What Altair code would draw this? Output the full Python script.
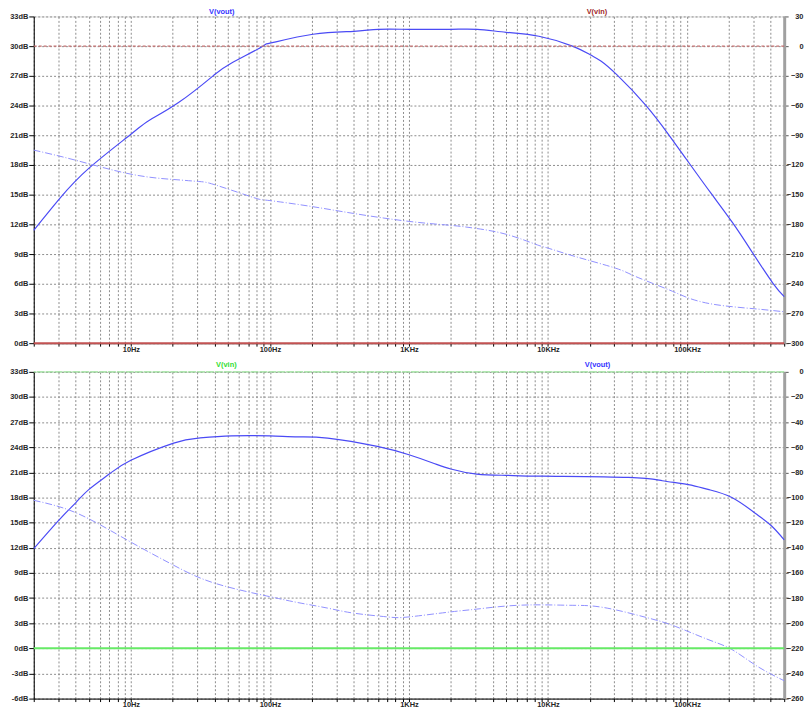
import altair as alt
import pandas as pd

# ---------------- data ----------------
# Top panel: V(vout) magnitude (dB) and phase (deg)
top_mag_f = [2, 3.07, 5.02, 10, 13.5, 22, 39, 53, 89, 100, 204, 400, 600, 1000, 2000,
             3100, 5000, 8600, 15000, 20300, 24000, 31500, 50200, 73700, 105000,
             150000, 215000, 298000, 414000, 500000]
top_mag_db = [11.4, 14.6, 17.7, 21.1, 22.5, 24.3, 27.0, 28.3, 30.0, 30.3, 31.2, 31.5, 31.7,
              31.7, 31.7, 31.7, 31.4, 31.0, 30.0, 29.1, 28.5, 27.07, 24.07, 21.07, 18.07,
              15.07, 12.07, 9.07, 6.07, 4.7]
top_ph_f = [2, 4.02, 10, 20.3, 30.7, 38, 59, 82, 100, 200, 400, 1000, 2000, 3000, 5000,
            8200, 10000, 15900, 30700, 42700, 73700, 102000, 159000, 307000, 500000]
top_ph_deg = [-105, -115.3, -129.3, -134.7, -136.7, -139, -147.7, -154.3, -156, -162,
              -169, -177, -181, -184, -190, -200.3, -204, -212.7, -224.3, -232.7, -246,
              -254.3, -261, -265.3, -268.3]

# Bottom panel: V(vout) magnitude (dB) and phase (deg)
bot_mag_f = [2, 3.07, 4.02, 5.02, 6.98, 10, 20.3, 30.7, 53, 100, 159, 260, 592, 1000,
             1500, 2000, 3070, 5000, 9180, 38000, 66400, 102000, 141600, 210000, 317000,
             406000, 500000]
bot_mag_db = [11.9, 15.4, 17.4, 19.0, 20.8, 22.45, 24.5, 25.1, 25.36, 25.36, 25.25, 25.1,
              24.1, 23.1, 22.1, 21.4, 20.8, 20.65, 20.55, 20.4, 20.0, 19.55, 18.97, 18.0,
              16.0, 14.6, 12.95]
bot_ph_f = [2, 3.07, 5.02, 10, 20.3, 40.4, 100, 159, 260, 400, 700, 1000, 2000, 3070,
            6220, 13500, 20300, 30700, 52800, 82200, 141600, 210000, 317000, 500000]
bot_ph_deg = [-102.2, -107.4, -117.1, -135.5, -153.9, -168.3, -178.9, -183.6, -188, -192,
              -195, -195, -191, -188.8, -185.7, -185.7, -186.2, -189.4, -195.9, -202.5,
              -213, -220.9, -234, -245.8]

# V(vin): flat 0 dB, 0 deg
vin_db = [0]
vin_deg = [0]

# trace names and label positions (frequency where the name is centred)
top_names = ["V(vout)", "V(vin)"]
top_name_f = [45, 22500]
bot_names = ["V(vin)", "V(vout)"]
bot_name_f = [48.6, 22700]

# axes
freq_domain = [2, 500000]
x_decades = [10, 100, 1000, 10000, 100000]
x_labels = ["10Hz", "100Hz", "1KHz", "10KHz", "100KHz"]
x_grid = [m * 10 ** k for k in range(0, 6) for m in range(1, 10)
          if freq_domain[0] <= m * 10 ** k <= freq_domain[1]]
top_db_ticks = list(range(0, 34, 3))
top_deg_ticks = list(range(-300, 31, 30))
bot_db_ticks = list(range(-6, 34, 3))
bot_deg_ticks = list(range(-260, 1, 20))

# ---------------- style ----------------
FONT = "Liberation Sans"
FS = 7.5
TXT = "#262626"
BLUE = "#4a4af5"
BLUE_PH = "#9090ff"
RED = "#c25252"
RED_PH = "#c47070"
GREEN = "#66ea66"
GREEN_PH = "#9be49b"
GRID = "#8c8c8c"
W, H = 758, 330

label_expr = " : ".join(
    f"datum.value == {v} ? '{t}'" for v, t in zip(x_decades, x_labels)) + " : ''"

x_axis = alt.Axis(values=x_grid, labelExpr=label_expr, grid=True, gridDash=[2, 2],
                  gridColor=GRID, gridWidth=1, tickSize=3, tickColor="#000",
                  domainColor="#000", domainWidth=1, title=None, labelFont=FONT,
                  labelFontSize=FS, labelFontWeight="bold", labelColor=TXT,
                  labelPadding=-1, labelFlush=False, labelOverlap=False)
X = alt.X("f:Q", scale=alt.Scale(type="log", domain=freq_domain, nice=False), axis=x_axis)


def left_axis(ticks):
    return alt.Axis(values=ticks, labelExpr="datum.value + 'dB'", grid=True, gridDash=[2, 2],
                    gridColor=GRID, gridWidth=1, tickSize=5, tickColor="#000",
                    domainColor="#000", domainWidth=1, title=None, labelFont=FONT,
                    labelFontSize=FS, labelFontWeight="bold", labelColor=TXT,
                    labelPadding=1, orient="left")


def right_axis(ticks):
    return alt.Axis(values=ticks, grid=False, tickSize=4, tickColor="#555",
                    domainColor="#a0a0a0", domainWidth=3, title=None, labelFont=FONT,
                    labelFontSize=FS, labelFontWeight="bold", labelColor=TXT,
                    labelPadding=15, labelAlign="right", orient="right")


def panel(mag_f, mag_db, ph_f, ph_deg, db_dom, deg_dom, db_ticks, deg_ticks,
          vin_color, vin_ph_color, names, name_f, name_colors, vin_ph_dash, name_y):
    mag = pd.DataFrame({"f": mag_f, "v": mag_db})
    ph = pd.DataFrame({"f": ph_f, "v": ph_deg})
    lab = pd.DataFrame({"f": name_f, "t": names, "c": name_colors})
    vmag = pd.DataFrame({"v": vin_db})
    vph = pd.DataFrame({"v": vin_deg})
    db_scale = alt.Scale(domain=db_dom, nice=False, zero=False)
    deg_scale = alt.Scale(domain=deg_dom, nice=False, zero=False)

    l_mag = alt.Chart(mag).mark_line(color=BLUE, strokeWidth=1.2, interpolate="natural").encode(
        x=X, y=alt.Y("v:Q", scale=db_scale, axis=left_axis(db_ticks)))
    l_ph = alt.Chart(ph).mark_line(color=BLUE_PH, strokeWidth=1, strokeDash=[7, 2, 1, 2],
                                   interpolate="natural").encode(
        x=X, y=alt.Y("v:Q", scale=deg_scale, axis=right_axis(deg_ticks)))
    r_mag = alt.Chart(vmag).mark_rule(color=vin_color, strokeWidth=2).encode(
        y=alt.Y("v:Q", scale=db_scale, axis=None))
    r_ph = alt.Chart(vph).mark_rule(color=vin_ph_color, strokeWidth=1.2,
                                    strokeDash=vin_ph_dash).encode(
        y=alt.Y("v:Q", scale=deg_scale, axis=None))
    txt = alt.Chart(lab).mark_text(font=FONT, fontSize=FS, fontWeight="bold",
                                   baseline="middle").encode(
        x=X, y=alt.value(name_y), text="t:N", color=alt.Color("c:N", scale=None))
    return alt.layer(l_mag, l_ph, r_mag, r_ph, txt).resolve_scale(y="independent").properties(
        width=W, height=H)


top = panel(top_mag_f, top_mag_db, top_ph_f, top_ph_deg, [0, 33], [-300, 30],
            top_db_ticks, top_deg_ticks, RED, RED_PH, top_names, top_name_f,
            ["#3535ff", "#a02828"], [3, 2], -4)
bottom = panel(bot_mag_f, bot_mag_db, bot_ph_f, bot_ph_deg, [-6, 33], [-260, 0],
               bot_db_ticks, bot_deg_ticks, GREEN, GREEN_PH, bot_names, bot_name_f,
               ["#33dd33", "#3535ff"], [8, 1], -7)

chart = alt.vconcat(top, bottom, spacing=29, bounds="flush").properties(
    padding={"left": 1, "top": -4, "right": 0, "bottom": -1.5}
).configure_view(stroke="#a0a0a0", strokeWidth=2).configure(background="white")

chart.save("out.html", embed_options={"renderer": "svg", "actions": False})
